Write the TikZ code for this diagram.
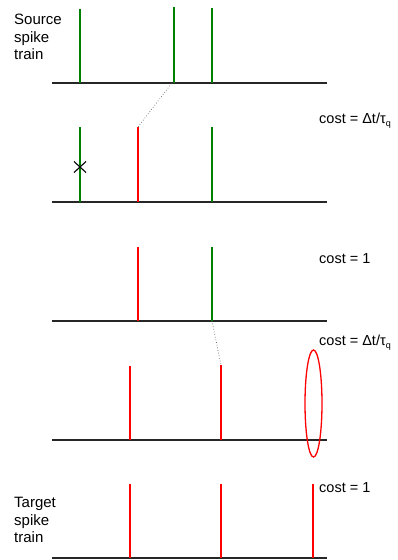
\documentclass[tikz,border=0pt]{standalone}
\usepackage{fontspec}
\setmainfont{Liberation Sans}
\usetikzlibrary{calc,shapes.geometric}
\newcommand{\tauq}{τ\raisebox{-0.35ex}{\fontsize{9}{9}\selectfont q}}
\begin{document}
\begin{tikzpicture}[x=1pt,y=-1pt,
  base/.style={line width=1.3pt,draw=black!85},
  gsp/.style={line width=1.4pt,draw=green!50!black},
  rsp/.style={line width=1.4pt,draw=red},
  link/.style={line width=0.7pt,draw=black!60,dotted},
  lbl/.style={inner sep=0pt,anchor=west,font=\fontsize{14.5}{16}\selectfont},
  side/.style={inner sep=0pt,anchor=north west,align=left,font=\fontsize{15}{17.5}\selectfont}]
\useasboundingbox (0,0) rectangle (397,560);
% baselines
\foreach \n/\y in {1/83,2/202,3/321,4/440,5/558}{
  \coordinate (bl\n) at (52,\y);
  \coordinate (br\n) at (327,\y);
  \draw[base] (bl\n) -- (br\n);
}
% row 1 (source)
\coordinate (a1t) at (80,9);   \coordinate (a1b) at (80,83);
\coordinate (b1t) at (174,7);  \coordinate (b1b) at (174,83);
\coordinate (c1t) at (212,8);  \coordinate (c1b) at (212,83);
\draw[gsp] (a1t) -- (a1b);
\draw[gsp] (b1t) -- (b1b);
\draw[gsp] (c1t) -- (c1b);
% row 2
\coordinate (a2t) at (80,127);  \coordinate (a2b) at (80,202);
\coordinate (b2t) at (138,127); \coordinate (b2b) at (138,202);
\coordinate (c2t) at (212,127); \coordinate (c2b) at (212,202);
\draw[gsp] (a2t) -- (a2b);
\draw[rsp] (b2t) -- (b2b);
\draw[gsp] (c2t) -- (c2b);
\coordinate (xm) at (80,167);
\draw[line width=1.1pt] ($(xm)+(-6,-5.5)$) -- ($(xm)+(6,5.5)$);
\draw[line width=1.1pt] ($(xm)+(-6,5.5)$) -- ($(xm)+(6,-5.5)$);
\coordinate (lk1) at (171.5,83.5);
\draw[link] (lk1) -- (b2t);
% row 3
\coordinate (b3t) at (138,247); \coordinate (b3b) at (138,321);
\coordinate (c3t) at (212,247); \coordinate (c3b) at (212,321);
\draw[rsp] (b3t) -- (b3b);
\draw[gsp] (c3t) -- (c3b);
% row 4
\coordinate (a4t) at (130,366); \coordinate (a4b) at (130,440);
\coordinate (c4t) at (221,365); \coordinate (c4b) at (221,440);
\draw[rsp] (a4t) -- (a4b);
\draw[rsp] (c4t) -- (c4b);
\draw[link] (c3b) -- (c4t);
\node[draw=red,line width=1.3pt,ellipse,minimum width=17pt,minimum height=107pt,inner sep=0pt] (ell) at (313.5,403.5) {};
% row 5 (target)
\coordinate (a5t) at (130,484); \coordinate (a5b) at (130,558);
\coordinate (c5t) at (221,484); \coordinate (c5b) at (221,558);
\coordinate (d5t) at (313,484); \coordinate (d5b) at (313,558);
\draw[rsp] (a5t) -- (a5b);
\draw[rsp] (c5t) -- (c5b);
\draw[rsp] (d5t) -- (d5b);
% labels
\node[side] (src) at (14,14) {Source\\spike\\train};
\node[side] (tgt) at (14,497) {Target\\spike\\train};
\node[lbl] (cost2) at (319,121) {cost = Δt/\tauq};
\node[lbl] (cost3) at (319,259) {cost = 1};
\node[lbl] (cost4) at (319,343) {cost = Δt/\tauq};
\node[lbl] (cost5) at (319,488) {cost = 1};
\end{tikzpicture}
\end{document}
